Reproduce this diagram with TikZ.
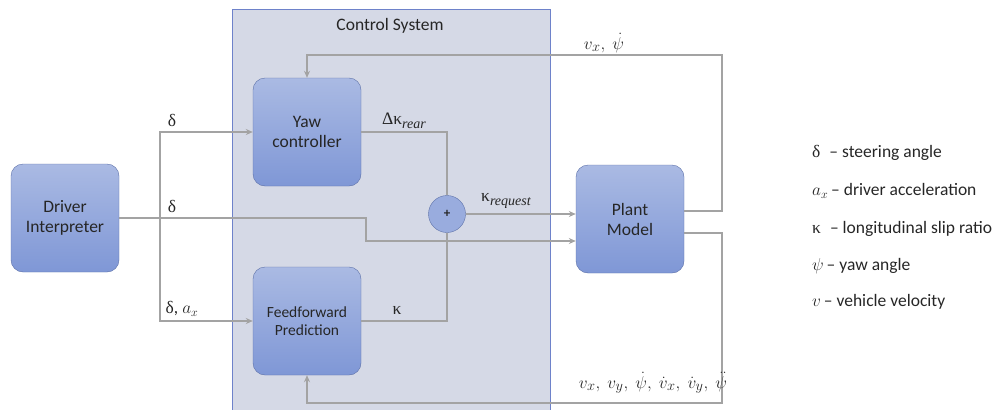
\documentclass[tikz,border=0pt]{standalone}
\usepackage{xcolor}
\usepackage{tikz}
\usepackage{amsmath, amssymb}
\usepackage{fontspec}
\setmainfont{Carlito}
\newfontfamily\grk{Liberation Serif}
\usetikzlibrary{arrows.meta}

\definecolor{blocktop}{HTML}{AABAE3}
\definecolor{blockbot}{HTML}{7F97D6}
\definecolor{blockedge}{HTML}{5C70A8}
\definecolor{panelfill}{HTML}{D5D9E6}
\definecolor{paneledge}{HTML}{6E82CA}
\definecolor{wire}{HTML}{A3A3A3}
\definecolor{ink}{HTML}{262626}

% italic serif subscript, set larger than \scriptstyle
\newcommand{\lowsub}[1]{\raisebox{-3.5pt}{\grk\itshape\fontsize{14}{16}\selectfont #1}}

\begin{document}
\begin{tikzpicture}[
  x=1pt, y=-1pt,
  every node/.style={text=ink, font=\fontsize{17.5}{20}\selectfont},
  block/.style={draw=blockedge, rounded corners=12pt, top color=blocktop,
    bottom color=blockbot, minimum width=108pt, minimum height=108pt,
    align=center, inner sep=2pt},
  sumnode/.style={draw=blockedge, circle, fill=blocktop!60!blockbot,
    minimum size=37pt, inner sep=0pt, font=\bfseries\fontsize{13}{14}\selectfont},
  wire/.style={draw=wire, line width=1.3pt},
  arr/.style={wire, -{Stealth[length=7pt, width=6pt]}},
  lbl/.style={inner sep=1pt},
  mathlbl/.style={inner sep=1pt, font=\fontsize{19}{22}\selectfont},
  legend/.style={anchor=west, inner sep=0pt}
]
\useasboundingbox (0,0) rectangle (1005,410);

% control system panel
\filldraw[fill=panelfill, draw=paneledge, line width=0.9pt] (232,9) rectangle (550,412);
\node (ctrl) at (390,26) {Control System};

% blocks
\node[block] (drv) at (65,218) {Driver\\Interpreter};
\node[block] (yaw) at (307,132) {Yaw\\controller};
\node[block, font=\fontsize{15.5}{18}\selectfont] (ff) at (307,321) {Feedforward\\Prediction};
\node[sumnode] (sum) at (447,214) {+};
\node[block] (plant) at (630,219) {Plant\\Model};

% driver inputs
\coordinate (split) at (160,218);
\coordinate (jog) at (366,218);
\draw[wire] (drv.east) -- (split);
\draw[arr] (split) |- (yaw.west);
\draw[arr] (split) |- (ff.west);
\draw[arr] (split) -- (jog) |- ([yshift=-22pt]plant.west);

% summing junction
\draw[wire] (yaw.east) -| (sum.north);
\draw[wire] (ff.east) -| (sum.south);
\draw[arr] (sum.east) -- (sum -| plant.west);

% feedback from the plant
\coordinate (fbtop) at (722,55);
\coordinate (fbbot) at (722,403);
\draw[arr] ([yshift=8pt]plant.east) -| (fbtop) -| (yaw.north);
\draw[arr] ([yshift=-14pt]plant.east) -| (fbbot) -| (ff.south);

% signal labels
\node[lbl] (d1) at (172,120) {\grk δ};
\node[lbl] (d2) at (172,206) {\grk δ};
\node[lbl] (dax) at (182,309) {{\grk δ}, $a_x$};
\node[lbl] (dk) at (404,121) {{\grk Δκ}\lowsub{rear}};
\node[lbl] (kreq) at (506,201) {{\grk κ}\lowsub{request}};
\node[lbl] (kff) at (397,310) {\grk κ};
\node[mathlbl] (fb1) at (604,43) {$v_x,\ \dot\psi$};
\node[mathlbl] (fb2) at (653,383) {$v_x,\ v_y,\ \dot\psi,\ \dot v_x,\ \dot v_y,\ \ddot\psi$};

% legend
\node[legend] (l1) at (812,153) {{\grk δ}\hspace{9pt}– steering angle};
\node[legend] (l2) at (812,191) {$a_x$\,– driver acceleration};
\node[legend] (l3) at (812,229) {{\grk κ}\hspace{9pt}– longitudinal slip ratio};
\node[legend] (l4) at (812,266) {$\psi$\,– yaw angle};
\node[legend] (l5) at (812,302) {$v$\,– vehicle velocity};
\end{tikzpicture}
\end{document}
